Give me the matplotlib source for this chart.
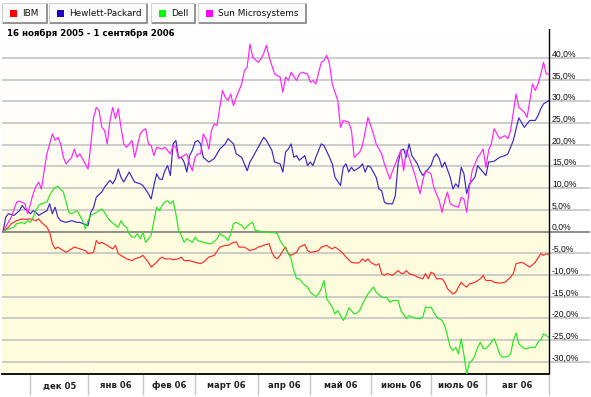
import numpy as np
import matplotlib
matplotlib.use("Agg")
import matplotlib.pyplot as plt
from matplotlib.patches import Rectangle
from matplotlib.colors import to_rgb
from matplotlib.transforms import blended_transform_factory

# ---------------- data ----------------
companies = ["IBM", "Hewlett-Packard", "Dell", "Sun Microsystems"]
legend_colors = ["#ff0000", "#2200cc", "#00ff00", "#ff00ff"]
line_colors = ["#ff2a2a", "#3a28c8", "#22e822", "#ff22ff"]
title = "16 ноября 2005 - 1 сентября 2006"

month_labels = ["дек 05", "янв 06", "фев 06", "март 06", "апр 06",
                "май 06", "июнь 06", "июль 06", "авг 06"]
# trading-day index of the first session of each month (last = 1 Sep 2006)
month_starts = [10, 31, 51, 70, 93, 112, 134, 156, 176, 199]
ytick_values = [-30, -25, -20, -15, -10, -5, 0, 5, 10, 15, 20, 25, 30, 35, 40]

# x = trading-day index since 16 Nov 2005, y = % change
ibm_day = [0, 2, 3, 5, 7, 8, 10, 12, 13, 14,
           16, 17, 18, 19, 20, 21, 23, 25, 26, 28,
           30, 31, 33, 34, 35, 36, 38, 40, 41, 42,
           44, 45, 47, 48, 50, 51, 52, 53, 54, 56,
           57, 58, 59, 61, 62, 64, 65, 66, 68, 70,
           72, 73, 75, 77, 79, 81, 82, 84, 85, 86,
           88, 90, 92, 93, 95, 97, 98, 99, 100, 101,
           102, 103, 104, 105, 107, 108, 110, 111, 112, 114,
           115, 116, 118, 119, 120, 121, 122, 124, 125, 127,
           129, 130, 131, 132, 133, 134, 136, 137, 138, 139,
           140, 142, 144, 145, 146, 147, 148, 150, 151, 153,
           154, 155, 156, 157, 158, 160, 161, 162, 164, 165,
           166, 167, 168, 169, 170, 172, 174, 175, 176, 178,
           179, 181, 183, 185, 186, 187, 189, 190, 192, 194,
           196, 197, 198, 199]
ibm_pct = [0.0, 1.0, 1.8, 2.5, 2.9, 2.8, 2.9, 2.5, 2.9, 2.1,
           1.0, -0.2, -2.8, -4.0, -3.6, -4.0, -4.8, -4.0, -3.6, -4.0,
           -4.4, -5.1, -4.8, -2.1, -2.8, -2.5, -3.2, -4.0, -3.2, -5.1,
           -5.9, -6.3, -6.7, -6.3, -5.9, -5.5, -6.3, -7.1, -8.2, -7.1,
           -6.3, -5.9, -6.3, -6.3, -6.5, -6.3, -5.9, -6.7, -6.7, -7.1,
           -7.4, -7.1, -5.9, -5.5, -3.6, -3.2, -3.2, -2.5, -2.4, -3.6,
           -3.6, -4.4, -4.0, -3.6, -3.2, -2.8, -4.8, -5.9, -6.3, -5.5,
           -4.4, -3.6, -5.1, -5.5, -4.8, -3.6, -3.0, -4.4, -4.8, -4.6,
           -4.4, -3.6, -3.2, -3.7, -4.0, -3.6, -4.0, -5.1, -5.9, -7.1,
           -7.3, -7.1, -6.3, -6.9, -6.3, -7.1, -7.8, -7.4, -9.7, -10.1,
           -9.7, -10.1, -9.0, -9.6, -9.7, -9.0, -9.7, -10.1, -10.5, -10.9,
           -9.7, -10.9, -9.4, -9.7, -10.9, -10.9, -11.7, -13.2, -14.4, -14.0,
           -12.8, -11.7, -12.4, -12.8, -12.1, -11.7, -10.9, -10.1, -11.3, -11.3,
           -11.7, -11.9, -11.7, -10.5, -9.7, -7.4, -7.1, -7.4, -8.2, -7.1,
           -5.1, -5.5, -5.1, -5.3]

hp_day = [0, 1, 2, 4, 6, 7, 8, 10, 11, 12,
          13, 14, 16, 17, 18, 19, 20, 21, 23, 25,
          27, 28, 31, 32, 33, 34, 36, 37, 38, 39,
          40, 41, 42, 43, 44, 46, 47, 48, 50, 51,
          53, 54, 55, 56, 57, 58, 59, 60, 61, 62,
          63, 64, 65, 66, 67, 68, 69, 70, 71, 72,
          73, 75, 77, 79, 81, 82, 84, 85, 87, 89,
          90, 91, 93, 95, 96, 98, 99, 101, 102, 103,
          104, 105, 106, 107, 108, 110, 111, 112, 113, 114,
          116, 117, 119, 120, 121, 123, 124, 125, 126, 127,
          128, 130, 131, 132, 133, 134, 136, 137, 138, 139,
          140, 142, 143, 144, 145, 146, 147, 148, 149, 151,
          152, 153, 154, 156, 157, 158, 159, 160, 161, 163,
          164, 165, 166, 167, 168, 169, 170, 172, 173, 174,
          175, 176, 177, 179, 181, 183, 184, 186, 187, 188,
          190, 191, 192, 194, 195, 196, 197, 199]
hp_pct = [0.0, 3.3, 4.1, 3.7, 4.8, 6.0, 5.2, 4.1, 4.8, 4.4,
          3.7, 4.1, 4.8, 6.4, 4.1, 5.6, 3.3, 2.5, 2.1, 2.5,
          2.1, 2.1, 1.4, 4.4, 5.5, 7.9, 9.1, 10.2, 11.0, 11.8,
          11.0, 12.1, 14.4, 12.5, 11.4, 13.7, 12.5, 11.4, 11.0, 10.6,
          8.7, 7.5, 10.6, 13.3, 12.1, 12.0, 14.0, 15.2, 12.9, 20.2,
          21.0, 17.0, 17.1, 16.0, 13.7, 17.5, 18.7, 20.6, 21.0, 20.2,
          17.1, 16.0, 16.8, 19.0, 20.2, 21.4, 20.2, 17.9, 17.1, 14.0,
          16.0, 17.1, 19.4, 21.7, 21.0, 18.7, 16.0, 15.6, 13.7, 18.3,
          19.0, 20.2, 17.1, 17.5, 16.4, 17.5, 15.2, 16.0, 15.2, 17.1,
          20.2, 19.8, 17.1, 15.6, 12.5, 10.6, 14.8, 15.6, 13.7, 14.8,
          14.0, 14.8, 15.6, 13.7, 15.2, 14.8, 12.5, 9.8, 9.4, 6.8,
          6.4, 6.4, 8.3, 15.6, 18.7, 19.0, 17.1, 20.2, 17.5, 15.6,
          14.0, 12.9, 13.7, 15.2, 17.1, 17.9, 16.8, 14.8, 16.0, 12.5,
          9.8, 11.0, 10.2, 14.8, 13.3, 8.7, 11.0, 12.5, 15.2, 14.4,
          13.7, 12.9, 16.0, 16.2, 17.1, 17.5, 17.9, 21.0, 23.7, 26.2,
          24.0, 24.8, 25.6, 25.6, 26.7, 28.3, 29.4, 30.2]

dell_day = [0, 2, 4, 5, 7, 8, 9, 10, 11, 12,
            13, 14, 16, 17, 18, 19, 20, 22, 23, 24,
            25, 27, 28, 29, 30, 31, 32, 34, 36, 37,
            38, 39, 41, 42, 43, 44, 45, 46, 47, 48,
            49, 50, 51, 52, 53, 54, 55, 56, 57, 58,
            59, 60, 61, 62, 63, 64, 65, 66, 67, 69,
            70, 71, 73, 75, 76, 78, 79, 81, 82, 83,
            84, 85, 87, 88, 90, 91, 92, 93, 95, 97,
            99, 100, 101, 103, 104, 105, 106, 107, 108, 110,
            111, 112, 114, 115, 116, 117, 118, 120, 121, 122,
            124, 125, 126, 128, 129, 130, 131, 133, 135, 136,
            138, 140, 141, 142, 144, 145, 147, 148, 150, 152,
            153, 154, 155, 156, 157, 158, 160, 161, 162, 163,
            164, 165, 166, 167, 168, 169, 170, 171, 172, 173,
            174, 175, 176, 177, 178, 179, 180, 181, 182, 184,
            185, 186, 187, 188, 190, 191, 192, 194, 195, 196,
            197, 199]
dell_pct = [0.0, 0.6, 1.0, 1.8, 2.1, 1.8, 2.5, 2.1, 3.3, 4.8,
            6.0, 6.4, 6.8, 8.3, 9.4, 10.2, 10.4, 9.1, 6.8, 4.4,
            4.1, 4.8, 3.7, 2.5, 0.6, 2.5, 3.7, 4.4, 5.2, 4.4,
            3.3, 2.5, 1.4, 1.0, 2.5, 1.4, 1.0, -0.5, -1.3, -1.3,
            -0.5, -1.7, -0.2, -2.5, -1.7, -0.9, 2.5, 5.6, 4.8, 6.0,
            6.8, 7.1, 6.4, 7.1, 4.1, 0.2, -0.9, -2.5, -1.7, -2.5,
            -1.3, -2.1, -2.5, -2.8, -2.8, -1.7, -0.5, -1.3, -2.1, -0.5,
            1.8, 2.1, 1.4, 0.6, 1.8, 2.1, 0.2, 0.2, -0.2, -0.2,
            -0.3, -0.5, -2.1, -4.0, -5.1, -6.3, -9.0, -10.9, -10.9, -12.4,
            -12.8, -14.0, -15.0, -14.4, -13.2, -11.3, -15.5, -17.4, -19.0, -18.2,
            -20.5, -19.4, -17.6, -19.0, -18.8, -18.2, -16.7, -14.4, -12.8, -14.0,
            -15.1, -15.3, -16.3, -15.9, -15.9, -18.2, -20.1, -19.4, -19.9, -20.1,
            -19.7, -17.4, -17.6, -17.4, -18.6, -19.7, -20.5, -21.7, -24.0, -26.7,
            -27.4, -26.7, -28.2, -24.7, -28.5, -32.8, -30.3, -29.7, -28.6, -26.7,
            -25.5, -27.0, -27.0, -26.3, -25.5, -24.7, -26.3, -28.2, -29.0, -28.8,
            -28.2, -25.1, -23.4, -25.9, -27.0, -27.0, -26.7, -26.7, -25.5, -25.0,
            -23.6, -24.4]

sun_day = [0, 3, 5, 6, 8, 9, 10, 11, 12, 13,
           14, 15, 16, 17, 18, 19, 20, 21, 22, 23,
           25, 26, 27, 28, 30, 31, 32, 33, 34, 35,
           36, 37, 38, 39, 40, 41, 42, 43, 44, 45,
           47, 48, 50, 51, 52, 53, 54, 55, 56, 58,
           59, 61, 62, 63, 64, 66, 67, 68, 69, 70,
           71, 72, 73, 74, 75, 76, 77, 78, 79, 80,
           81, 82, 83, 84, 85, 87, 88, 89, 90, 91,
           93, 94, 95, 96, 97, 99, 101, 102, 103, 104,
           105, 107, 108, 109, 111, 112, 113, 114, 116, 117,
           118, 119, 120, 122, 123, 124, 126, 127, 128, 130,
           131, 133, 135, 136, 138, 139, 141, 142, 144, 145,
           146, 147, 148, 150, 152, 153, 154, 156, 157, 159,
           160, 161, 162, 163, 164, 166, 167, 168, 169, 170,
           171, 173, 174, 175, 176, 177, 178, 179, 181, 183,
           184, 185, 187, 188, 190, 191, 192, 193, 194, 195,
           196, 197, 198, 199]
sun_pct = [0.0, 3.3, 6.8, 7.0, 6.4, 4.1, 6.4, 8.7, 10.4, 11.4,
           9.8, 14.0, 17.9, 20.2, 22.5, 21.0, 21.7, 20.2, 17.1, 15.6,
           17.1, 19.0, 17.1, 17.9, 15.6, 14.4, 20.0, 26.3, 28.6, 27.9,
           24.0, 23.3, 20.2, 25.6, 28.6, 26.0, 28.3, 24.0, 20.2, 19.4,
           21.0, 17.1, 22.5, 23.3, 23.7, 20.2, 19.8, 17.5, 19.4, 19.0,
           19.4, 17.9, 19.8, 19.4, 16.8, 17.5, 17.9, 15.6, 14.0, 17.1,
           17.9, 17.9, 22.5, 21.4, 19.0, 23.3, 24.8, 24.4, 28.6, 32.5,
           30.9, 30.2, 31.7, 29.0, 30.9, 34.0, 37.1, 37.9, 43.2, 40.2,
           39.0, 39.8, 41.0, 42.9, 40.2, 36.3, 35.6, 32.1, 35.6, 34.8,
           36.7, 34.8, 36.3, 36.7, 36.3, 34.4, 34.8, 34.0, 39.0, 39.4,
           40.6, 38.6, 34.0, 30.2, 24.0, 25.6, 25.2, 23.3, 17.1, 18.3,
           19.8, 26.3, 22.5, 20.2, 17.9, 15.6, 12.1, 14.0, 17.1, 18.7,
           14.0, 18.7, 17.1, 13.3, 8.7, 11.8, 14.0, 13.3, 10.2, 7.1,
           4.4, 7.1, 9.1, 6.4, 6.0, 5.6, 7.9, 7.5, 4.4, 10.2,
           14.0, 17.1, 17.9, 19.0, 14.8, 18.7, 20.2, 23.7, 21.4, 22.1,
           21.4, 23.3, 31.7, 28.6, 27.5, 26.3, 30.2, 34.0, 32.5, 34.0,
           36.3, 39.0, 36.3, 36.3]

series_days = [ibm_day, hp_day, dell_day, sun_day]
series_pcts = [ibm_pct, hp_pct, dell_pct, sun_pct]

# ---------------- layout ----------------
W, H = 591, 397
fig = plt.figure(figsize=(W / 100, H / 100), dpi=100)
fig.patch.set_facecolor("white")

ax_left_px, ax_right_px, ax_top_px, ax_bot_px = 2, 590, 29, 374
first_px, last_px = 3, 549
ax = fig.add_axes([ax_left_px / W, 1 - ax_bot_px / H,
                   (ax_right_px - ax_left_px) / W, (ax_bot_px - ax_top_px) / H])
last_day = month_starts[-1]
scale = (last_px - first_px) / last_day
xl = -(first_px - ax_left_px) / scale
xr = last_day + (ax_right_px - last_px) / scale
y_bot, y_top = -32.84, 46.67
ax.set_xlim(xl, xr)
ax.set_ylim(y_bot, y_top)
ax.patch.set_visible(False)
ax.set_xticks([])
ax.set_yticks([])
for s in ["top", "left", "right"]:
    ax.spines[s].set_visible(False)
ax.spines["bottom"].set_bounds(xl, last_day)
ax.spines["bottom"].set_color("black")
ax.spines["bottom"].set_linewidth(1.3)

# background gradient: white at top -> pale yellow towards 0 and below
ys = np.linspace(y_top, y_bot, 300)
frac = np.clip((y_top - ys) / y_top, 0, 1) ** 2
white = np.array([1.0, 1.0, 1.0])
yel = np.array(to_rgb("#fffcde"))
img = white[None, None, :] + (yel - white)[None, None, :] * frac[:, None, None]
ax.imshow(img, extent=[xl, last_day, y_bot, y_top], aspect="auto",
          origin="upper", zorder=0, interpolation="bilinear")

for v in ytick_values:
    if v == 0:
        ax.axhline(v, color="#7c7c7c", lw=1.2, zorder=1)
    else:
        ax.axhline(v, color="#c4c4c4", lw=1.2, zorder=1)
    lab = f"{v:.1f}%".replace(".", ",")
    ax.annotate(lab, xy=(last_day, v), xytext=(2.2, 0.9), textcoords="offset points",
                ha="left", va="baseline", fontsize=6.2, family="Liberation Sans",
                color="#111111", annotation_clip=False)

ax.axvline(last_day, color="black", lw=1.0, zorder=4)

for days, pcts, col in zip(series_days, series_pcts, line_colors):
    ax.plot(days, pcts, color=col, lw=0.85, zorder=3, solid_joinstyle="round")

# month separators and labels below the plot
bt = blended_transform_factory(ax.transData, ax.transAxes)
sep_len = 21 / (ax_bot_px - ax_top_px)
ax.vlines(month_starts, -sep_len, 0, transform=bt, color="#c8c8c8", lw=1.0,
          clip_on=False)
for i, lab in enumerate(month_labels):
    xc = (month_starts[i] + month_starts[i + 1]) / 2
    ax.text(xc, -12 / (ax_bot_px - ax_top_px), lab, transform=bt, ha="center",
            va="center", fontsize=6.1, fontweight="bold", family="DejaVu Sans",
            color="#222222", clip_on=False)

# ---------------- legend buttons & title ----------------
ui = fig.add_axes([0, 0, 1, 1])
ui.set_xlim(0, W)
ui.set_ylim(H, 0)
ui.axis("off")
ui.patch.set_visible(False)

btn_left = [2, 49, 151, 198]
btn_right = [47, 147, 195, 306]
btn_top, btn_bot = 3, 23
for name, col, l, r in zip(companies, legend_colors, btn_left, btn_right):
    ui.add_patch(Rectangle((l, btn_top), r - l, btn_bot - btn_top, facecolor="#fbfbfb",
                           edgecolor="#d0d0d0", lw=0.8))
    ui.plot([l + 1, r, r], [btn_bot, btn_bot, btn_top + 1], color="#8e8e8e", lw=1.3,
            solid_capstyle="butt")
    ui.add_patch(Rectangle((l + 8, 10), 7, 7, facecolor=col, edgecolor="none"))
    ui.text(l + 20, 13.8, name, ha="left", va="center", fontsize=6.4,
            family="DejaVu Sans", color="#111111")

ui.text(7, 33, title, ha="left", va="center", fontsize=6.2, fontweight="bold",
        family="DejaVu Sans", color="black")

fig.savefig("out.png", dpi=100)
